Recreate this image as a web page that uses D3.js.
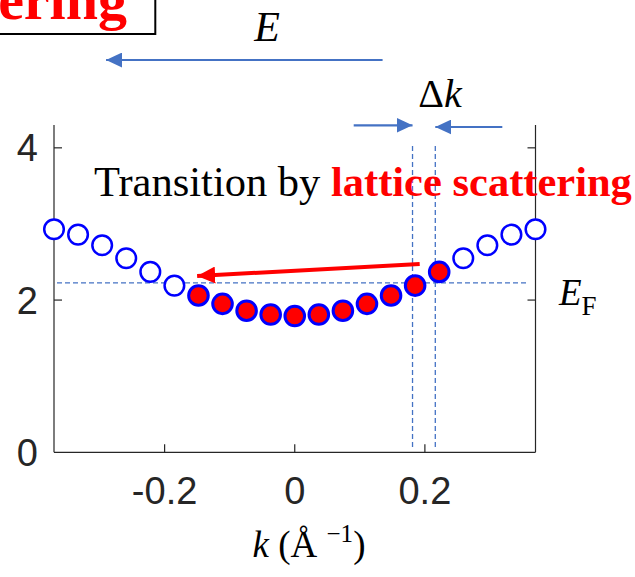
<!DOCTYPE html>
<html>
<head>
<meta charset="utf-8">
<script src="https://cdn.jsdelivr.net/npm/d3@7"></script>
<style>
  html, body { margin: 0; padding: 0; background: #fff; }
  svg { display: block; }
</style>
</head>
<body>
<svg id="chart" width="635" height="577"></svg>
<script>
// Band dispersion: wavevector k (1/Å) and electron energy at each sampled state
const kValues = [-0.37, -0.333, -0.296, -0.259, -0.222, -0.185, -0.148, -0.111, -0.074, -0.037,
                 0, 0.037, 0.074, 0.111, 0.148, 0.185, 0.222, 0.259, 0.296, 0.333, 0.37];
const energies = [2.93, 2.86, 2.72, 2.55, 2.37, 2.19, 2.06, 1.95, 1.86, 1.81,
                  1.79, 1.81, 1.86, 1.95, 2.06, 2.19, 2.37, 2.55, 2.72, 2.86, 2.93];
// 1 = occupied state (filled), 0 = empty state (open)
const occupied = [0, 0, 0, 0, 0, 0, 1, 1, 1, 1, 1, 1, 1, 1, 1, 1, 1, 0, 0, 0, 0];

const xTicks = [-0.2, 0, 0.2];
const xTickLabels = ["-0.2", "0", "0.2"];
const yTicks = [0, 2, 4];
const yTickLabels = ["0", "2", "4"];

const fermiEnergy = 2.227;
const deltaKLines = [0.181, 0.216];
// scattering transition: from state near k_F to the opposite side
const transitionFrom = [0.192, 2.474];
const transitionTo = [-0.150, 2.316];

const serif = "'Liberation Serif', 'Times New Roman', serif";
const sans = "'Liberation Sans', Arial, sans-serif";
const axisColor = "#262626";
const guideBlue = "#4472C4";

const svg = d3.select("#chart");

const x = d3.scaleLinear().domain([-0.37, 0.37]).range([54, 535.5]);
const y = d3.scaleLinear().domain([0, 4.3]).range([452.3, 125]);

// Arrowhead markers
const defs = svg.append("defs");
function marker(id, color, w, h) {
  defs.append("marker")
    .attr("id", id)
    .attr("viewBox", `0 0 ${w} ${h}`)
    .attr("refX", w).attr("refY", h / 2)
    .attr("markerWidth", w).attr("markerHeight", h)
    .attr("markerUnits", "userSpaceOnUse")
    .attr("orient", "auto")
    .append("path")
    .attr("d", `M0,0 L${w},${h / 2} L0,${h} Z`)
    .attr("fill", color);
}
marker("headBlue", guideBlue, 16, 15);
marker("headRed", "#ff0000", 18, 17);

// Title box, partly outside the top-left corner
svg.append("rect")
  .attr("x", -20).attr("y", -20)
  .attr("width", 175.3).attr("height", 54)
  .attr("fill", "#fff").attr("stroke", "#000").attr("stroke-width", 2);
svg.append("text")
  .attr("x", 127).attr("y", 19)
  .attr("text-anchor", "end")
  .attr("font-family", serif).attr("font-weight", "bold")
  .attr("font-size", 58).attr("fill", "#ff0000")
  .text("Scattering");

// Energy direction arrow
svg.append("text")
  .attr("x", 267).attr("y", 40.7)
  .attr("text-anchor", "middle")
  .attr("font-family", serif).attr("font-style", "italic")
  .attr("font-size", 42).attr("fill", "#000")
  .text("E");
svg.append("line")
  .attr("x1", x(0.135)).attr("y1", 60)
  .attr("x2", x(-0.29)).attr("y2", 60)
  .attr("stroke", guideBlue).attr("stroke-width", 2.2)
  .attr("marker-end", "url(#headBlue)");

// Δk label and arrows
const dk = svg.append("text")
  .attr("x", 440).attr("y", 106.7)
  .attr("text-anchor", "middle")
  .attr("font-family", serif).attr("font-size", 40).attr("fill", "#000");
dk.append("tspan").text("Δ");
dk.append("tspan").attr("font-style", "italic").text("k");

svg.append("line")
  .attr("x1", x(0.0906)).attr("y1", 125.3)
  .attr("x2", x(deltaKLines[0])).attr("y2", 125.3)
  .attr("stroke", guideBlue).attr("stroke-width", 2.2)
  .attr("marker-end", "url(#headBlue)");
svg.append("line")
  .attr("x1", x(0.319)).attr("y1", 127)
  .attr("x2", x(deltaKLines[1])).attr("y2", 127)
  .attr("stroke", guideBlue).attr("stroke-width", 2.2)
  .attr("marker-end", "url(#headBlue)");

// Axes
const g = svg.append("g");
g.append("line")
  .attr("x1", x(-0.37)).attr("y1", y(0)).attr("x2", x(0.37)).attr("y2", y(0))
  .attr("stroke", axisColor).attr("stroke-width", 1.2);
g.append("line")
  .attr("x1", x(-0.37)).attr("y1", y(0)).attr("x2", x(-0.37)).attr("y2", y(4.3))
  .attr("stroke", axisColor).attr("stroke-width", 1.2);
g.append("line")
  .attr("x1", x(0.37)).attr("y1", y(0)).attr("x2", x(0.37)).attr("y2", y(4.3))
  .attr("stroke", axisColor).attr("stroke-width", 1.2);

// x ticks (inward) and labels
g.selectAll(".xtick").data(xTicks).join("line")
  .attr("x1", d => x(d)).attr("x2", d => x(d))
  .attr("y1", y(0)).attr("y2", y(0) - 8)
  .attr("stroke", axisColor).attr("stroke-width", 1.2);
g.selectAll(".xlab").data(xTicks).join("text")
  .attr("x", d => x(d)).attr("y", 504)
  .attr("text-anchor", "middle")
  .attr("font-family", sans).attr("font-size", 38).attr("fill", axisColor)
  .text((d, i) => xTickLabels[i]);

// y ticks on both sides, pointing inward
g.selectAll(".ytickL").data(yTicks.filter(d => d > 0)).join("line")
  .attr("x1", x(-0.37)).attr("x2", x(-0.37) + 8)
  .attr("y1", d => y(d)).attr("y2", d => y(d))
  .attr("stroke", axisColor).attr("stroke-width", 1.2);
g.selectAll(".ytickR").data(yTicks.filter(d => d > 0)).join("line")
  .attr("x1", x(0.37)).attr("x2", x(0.37) - 8)
  .attr("y1", d => y(d)).attr("y2", d => y(d))
  .attr("stroke", axisColor).attr("stroke-width", 1.2);
g.selectAll(".ylab").data(yTicks).join("text")
  .attr("x", 38).attr("y", d => y(d) + 13.5)
  .attr("text-anchor", "end")
  .attr("font-family", sans).attr("font-size", 38).attr("fill", axisColor)
  .text((d, i) => yTickLabels[i]);

// x axis title: k (Å^-1)
const xt = svg.append("text")
  .attr("x", 309).attr("y", 557)
  .attr("text-anchor", "middle")
  .attr("font-family", serif).attr("font-size", 37).attr("fill", "#000");
xt.append("tspan").attr("font-style", "italic").text("k");
xt.append("tspan").text(" (Å ");
xt.append("tspan").attr("font-size", 25).attr("dy", -15).text("−1");
xt.append("tspan").attr("dy", 15).text(")");

// Fermi level and Δk guide lines
svg.append("line")
  .attr("x1", 57).attr("x2", 528)
  .attr("y1", y(fermiEnergy)).attr("y2", y(fermiEnergy))
  .attr("stroke", guideBlue).attr("stroke-width", 1.3)
  .attr("stroke-dasharray", "5,3");
svg.selectAll(".vguide").data(deltaKLines).join("line")
  .attr("x1", d => x(d)).attr("x2", d => x(d))
  .attr("y1", 146).attr("y2", 447)
  .attr("stroke", guideBlue).attr("stroke-width", 1.3)
  .attr("stroke-dasharray", "5,3");

// E_F label
const ef = svg.append("text")
  .attr("x", 559).attr("y", 305)
  .attr("font-family", serif).attr("font-size", 37).attr("fill", "#000");
ef.append("tspan").attr("font-style", "italic").text("E");
ef.append("tspan").attr("font-size", 27).attr("dy", 10).text("F");

// Electron states along the band
svg.selectAll(".state").data(kValues).join("circle")
  .attr("cx", d => x(d))
  .attr("cy", (d, i) => y(energies[i]))
  .attr("r", 9.8)
  .attr("fill", (d, i) => occupied[i] ? "#ff0000" : "#fff")
  .attr("stroke", "#0000ff")
  .attr("stroke-width", (d, i) => occupied[i] ? 3 : 2.5);

// Transition arrow
svg.append("line")
  .attr("x1", x(transitionFrom[0])).attr("y1", y(transitionFrom[1]))
  .attr("x2", x(transitionTo[0])).attr("y2", y(transitionTo[1]))
  .attr("stroke", "#ff0000").attr("stroke-width", 4)
  .attr("marker-end", "url(#headRed)");

// Annotation text
const tt = svg.append("text")
  .attr("x", 94).attr("y", 195.5)
  .attr("font-family", serif).attr("font-size", 42.5).attr("fill", "#000");
tt.append("tspan").text("Transition by ");
tt.append("tspan").attr("font-weight", "bold").attr("fill", "#ff0000").text("lattice scattering");
</script>
</body>
</html>
